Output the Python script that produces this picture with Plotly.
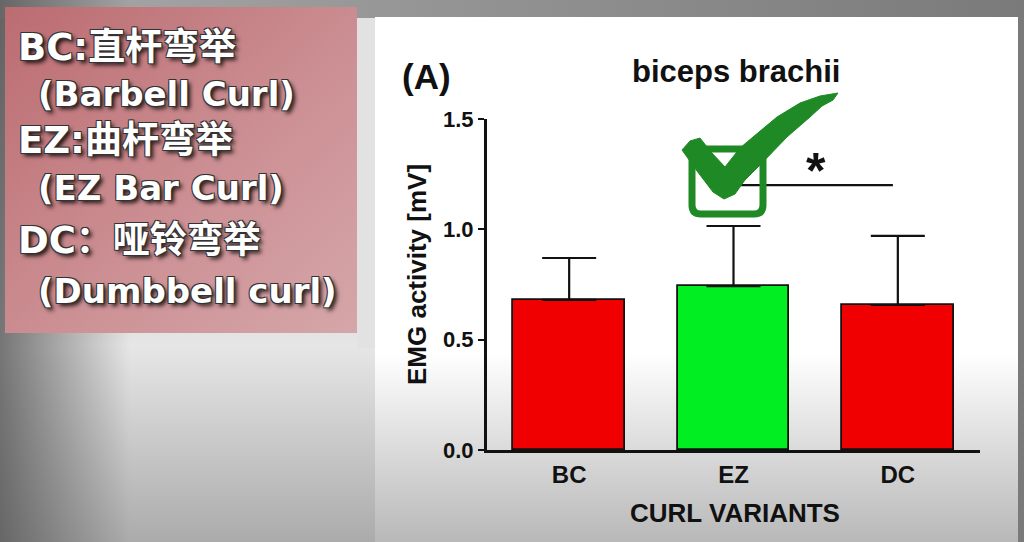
import base64
import plotly.graph_objects as go

# ---- data ----
categories = ["BC", "EZ", "DC"]
means = [0.68, 0.743, 0.657]
sd_upper = [0.19, 0.272, 0.313]
bar_colors = ["#f00000", "#00ee22", "#f00000"]
y_ticks = [0.0, 0.5, 1.0, 1.5]
y_tick_labels = ["0.0", "0.5", "1.0", "1.5"]
sig_pair = [1.02, 1.97]
sig_level = 1.2
legend_cn = ["BC:直杆弯举", "EZ:曲杆弯举", "DC：哑铃弯举"]
legend_en = ["(Barbell Curl)", "(EZ Bar Curl)", "(Dumbbell curl)"]

W, H = 1024, 542
L, R, T, B = 487, 980, 119, 450


def px(x):
    return (x - L) / (R - L)


def py(y):
    return (B - y) / (B - T)


# ---- background as SVG ----
svg = f"""<svg xmlns='http://www.w3.org/2000/svg' width='{W}' height='{H}' viewBox='0 0 {W} {H}'>
<defs>
<linearGradient id='bg' x1='0' y1='0' x2='0' y2='1'>
 <stop offset='0' stop-color='#9a9a9a'/><stop offset='0.64' stop-color='#e6e6e6'/><stop offset='1' stop-color='#ababab'/>
</linearGradient>
<linearGradient id='lft' x1='0' y1='0' x2='1' y2='0'>
 <stop offset='0' stop-color='#505050' stop-opacity='0.75'/><stop offset='1' stop-color='#505050' stop-opacity='0'/>
</linearGradient>
<linearGradient id='top' x1='0' y1='0' x2='1' y2='0'>
 <stop offset='0' stop-color='#a8a8a8'/><stop offset='1' stop-color='#7a7a7a'/>
</linearGradient>
<linearGradient id='pnl' x1='0' y1='0' x2='0' y2='1'>
 <stop offset='0' stop-color='#ffffff'/><stop offset='0.64' stop-color='#ffffff'/><stop offset='1' stop-color='#b8b8b8'/>
</linearGradient>
<linearGradient id='pink' x1='0' y1='0' x2='1' y2='1'>
 <stop offset='0' stop-color='#bb6c71'/><stop offset='0.6' stop-color='#cd9296'/><stop offset='1' stop-color='#d5a6a9'/>
</linearGradient>
</defs>
<rect x='0' y='0' width='{W}' height='{H}' fill='url(#bg)'/>
<rect x='0' y='0' width='{W}' height='18' fill='url(#top)'/>
<rect x='0' y='0' width='130' height='{H}' fill='url(#lft)'/>
<rect x='357' y='18' width='18' height='330' fill='#e2e2e2'/>
<rect x='1018' y='0' width='6' height='{H}' fill='#7a7a7a'/>
<rect x='375' y='17' width='643' height='{H - 17}' fill='url(#pnl)'/>
<rect x='5' y='7' width='352' height='326' fill='url(#pink)'/>
</svg>"""
svg_uri = "data:image/svg+xml;base64," + base64.b64encode(svg.encode("utf-8")).decode()

fig = go.Figure()
fig.add_trace(go.Bar(
    x=list(range(len(categories))),
    y=means,
    width=0.68,
    marker=dict(color=bar_colors, line=dict(color="#111111", width=1.8)),
    error_y=dict(type="data", symmetric=False, array=sd_upper,
                 arrayminus=[0] * len(sd_upper), color="#111111",
                 thickness=2.2, width=27),
    showlegend=False,
    hoverinfo="skip",
))

# significance line
fig.add_trace(go.Scatter(
    x=sig_pair, y=[sig_level, sig_level], mode="lines",
    line=dict(color="#111111", width=2.2), showlegend=False, hoverinfo="skip",
))

green = "#1f8a25"
shapes = []
# check box (rounded)
x0, x1, y0, y1, r = 692, 763, 149, 214, 9
box = (f"M {px(x0 + r)},{py(y0)} L {px(x1 - r)},{py(y0)} Q {px(x1)},{py(y0)} {px(x1)},{py(y0 + r)} "
       f"L {px(x1)},{py(y1 - r)} Q {px(x1)},{py(y1)} {px(x1 - r)},{py(y1)} "
       f"L {px(x0 + r)},{py(y1)} Q {px(x0)},{py(y1)} {px(x0)},{py(y1 - r)} "
       f"L {px(x0)},{py(y0 + r)} Q {px(x0)},{py(y0)} {px(x0 + r)},{py(y0)} Z")
shapes.append(dict(type="path", xref="paper", yref="paper", path=box,
                   line=dict(color=green, width=7), fillcolor="rgba(0,0,0,0)"))
check_pts = [(682, 150), (690, 141), (700, 138), (711, 152), (725, 167), (740, 148),
             (753, 137), (777, 117), (800, 103), (820, 96), (838, 93), (833, 100),
             (822, 106), (810, 117), (787, 137), (760, 165), (745, 180), (735, 194),
             (724, 199), (713, 192), (697, 171)]
cpath = "M " + " L ".join(f"{px(a)},{py(b)}" for a, b in check_pts) + " Z"
shapes.append(dict(type="path", xref="paper", yref="paper", path=cpath,
                   line=dict(color=green, width=1), fillcolor=green))

annotations = []
txt_font = "Liberation Sans, Arial, sans-serif"


def ann(text, x, y, size, **kw):
    d = dict(text=text, x=px(x), y=py(y), xref="paper", yref="paper",
             xanchor="center", yanchor="middle", showarrow=False,
             font=dict(family=txt_font, size=size, color="#111111", weight="bold"))
    d.update(kw)
    annotations.append(d)


ann("biceps brachii", 736, 71, 31)
ann("(A)", 426, 76, 35)
ann("EMG activity [mV]", 417, 275, 26, textangle=-90)
ann("CURL VARIANTS", 735, 513, 26)
ann("*", 816, 171, 50)

shadow = ("-1px -1px 0 #333, 1px -1px 0 #333, -1px 1px 0 #333, 1px 1px 0 #333, "
          "3px 3px 4px rgba(0,0,0,0.85)")
cn_y = [47, 140, 240]
en_y = [94, 188, 291]
for text, yy in zip(legend_cn, cn_y):
    annotations.append(dict(text=text, x=px(16), y=py(yy), xref="paper", yref="paper",
                            xanchor="left", yanchor="middle", showarrow=False,
                            font=dict(family="DejaVu Sans, Noto Sans CJK SC, sans-serif", size=37,
                                      color="white", weight="bold", shadow=shadow)))
for text, yy in zip(legend_en, en_y):
    annotations.append(dict(text=text, x=px(36), y=py(yy), xref="paper", yref="paper",
                            xanchor="left", yanchor="middle", showarrow=False,
                            font=dict(family="DejaVu Sans, sans-serif", size=34,
                                      color="white", weight="bold", shadow=shadow)))

fig.update_layout(
    width=W, height=H,
    margin=dict(l=L, r=W - R, t=T, b=H - B, pad=0),
    paper_bgcolor="white",
    plot_bgcolor="rgba(0,0,0,0)",
    images=[dict(source=svg_uri, xref="paper", yref="paper",
                 x=px(0), y=py(0), sizex=px(W) - px(0), sizey=py(0) - py(H),
                 xanchor="left", yanchor="top", sizing="stretch", layer="below")],
    shapes=shapes,
    annotations=annotations,
    xaxis=dict(range=[-0.5, 2.5], tickvals=list(range(len(categories))), ticktext=categories,
               showgrid=False, zeroline=False, showline=True, linecolor="#111111", linewidth=3,
               ticks="", ticklabelstandoff=1,
               tickfont=dict(family=txt_font, size=24, color="#111111", weight="bold")),
    yaxis=dict(range=[0, 1.5], tickvals=y_ticks, ticktext=y_tick_labels,
               showgrid=False, zeroline=False, showline=True, linecolor="#111111", linewidth=3,
               ticks="outside", ticklen=6, tickwidth=2, tickcolor="#111111",
               tickfont=dict(family=txt_font, size=22, color="#111111", weight="bold")),
    bargap=0,
)

fig.write_html("out.html")
